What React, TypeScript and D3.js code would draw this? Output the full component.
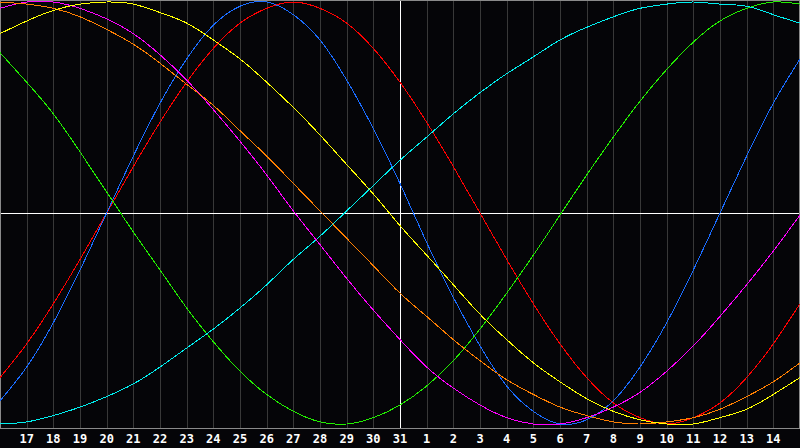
import React, { useEffect, useRef } from 'react';
import * as d3 from 'd3';

// days shown along the bottom, one column per day
const days = [16, 17, 18, 19, 20, 21, 22, 23, 24, 25, 26, 27, 28, 29, 30, 31,
  1, 2, 3, 4, 5, 6, 7, 8, 9, 10, 11, 12, 13, 14, 15];

// cycle values per day, -100..100
const physical = [-89, -73, -52, -27, 0, 27, 52, 73, 89, 98, 100, 94, 82, 63, 40, 14,
  -14, -40, -63, -82, -94, -100, -98, -89, -73, -52, -27, 0, 27, 52, 73];
const emotional = [-78, -62, -43, -22, 0, 22, 43, 62, 78, 90, 97, 100, 97, 90, 78, 62,
  43, 22, 0, -22, -43, -62, -78, -90, -97, -100, -97, -90, -78, -62, -43];
const intellectual = [76, 62, 47, 29, 10, -9, -27, -45, -61, -75, -86, -94, -99, -100, -97, -91,
  -82, -70, -55, -38, -20, -1, 18, 36, 53, 68, 81, 91, 97, 100, 99];
const spiritual = [-100, -99, -96, -92, -87, -81, -73, -64, -55, -45, -34, -22, -11, 1, 13, 25,
  36, 47, 57, 66, 74, 82, 88, 93, 97, 99, 100, 99, 98, 94, 90];
const intuitive = [97, 100, 100, 97, 92, 85, 75, 63, 49, 34, 18, 1, -15, -31, -46, -60,
  -73, -83, -91, -97, -100, -100, -97, -92, -85, -75, -63, -49, -34, -18, -1];
const awareness = [100, 99, 97, 93, 87, 80, 71, 61, 51, 39, 27, 14, 1, -12, -25, -38,
  -49, -60, -70, -79, -86, -92, -96, -99, -100, -99, -97, -93, -87, -80, -71];
const aesthetic = [85, 91, 96, 99, 100, 99, 95, 90, 82, 73, 62, 50, 37, 23, 9, -6,
  -20, -34, -48, -60, -71, -80, -88, -94, -98, -100, -100, -97, -93, -86, -78];

const series = [
  { name: 'emotional', values: emotional, color: '#ff0000' },
  { name: 'physical', values: physical, color: '#1a6cff' },
  { name: 'intellectual', values: intellectual, color: '#22ee00' },
  { name: 'spiritual', values: spiritual, color: '#00eeee' },
  { name: 'intuitive', values: intuitive, color: '#ff00ff' },
  { name: 'awareness', values: awareness, color: '#ff7f00' },
  { name: 'aesthetic', values: aesthetic, color: '#ffff00' },
];

const width = 800;
const height = 448;
const plotBottom = 428;
const todayIndex = 15; // the 31st

function Biorhythm() {
  const ref = useRef<SVGSVGElement>(null);

  useEffect(() => {
    const svg = d3.select(ref.current);
    svg.selectAll('*').remove();

    const x = d3.scaleLinear().domain([0, days.length - 1]).range([0, width]);
    const y = d3.scaleLinear().domain([-100, 100]).range([424, 2]);

    svg.append('rect')
      .attr('width', width)
      .attr('height', height)
      .attr('fill', '#050508');

    // day gridlines
    svg.append('g')
      .selectAll('line')
      .data(days.map((d, i) => i).filter(i => i > 0 && i < days.length - 1 && i !== todayIndex))
      .enter().append('line')
      .attr('x1', i => Math.round(x(i)) + 0.5)
      .attr('x2', i => Math.round(x(i)) + 0.5)
      .attr('y1', 0)
      .attr('y2', plotBottom)
      .attr('stroke', '#383838')
      .attr('shape-rendering', 'crispEdges');

    // border
    svg.append('path')
      .attr('d', `M0.5,${plotBottom + 0.5}V0.5H799.5V${plotBottom + 0.5}H0.5`)
      .attr('fill', 'none')
      .attr('stroke', '#8a8a8a')
      .attr('shape-rendering', 'crispEdges');

    // today + zero line
    svg.append('line')
      .attr('x1', Math.round(x(todayIndex)) + 0.5)
      .attr('x2', Math.round(x(todayIndex)) + 0.5)
      .attr('y1', 1)
      .attr('y2', plotBottom)
      .attr('stroke', '#ffffff')
      .attr('shape-rendering', 'crispEdges');
    svg.append('line')
      .attr('x1', 1)
      .attr('x2', width - 1)
      .attr('y1', Math.round(y(0)) + 0.5)
      .attr('y2', Math.round(y(0)) + 0.5)
      .attr('stroke', '#ffffff')
      .attr('shape-rendering', 'crispEdges');

    const line = d3.line<number>()
      .x((d, i) => x(i))
      .y(d => y(d))
      .curve(d3.curveNatural);

    svg.append('g')
      .selectAll('path')
      .data(series)
      .enter().append('path')
      .attr('d', s => line(s.values))
      .attr('fill', 'none')
      .attr('stroke', s => s.color)
      .attr('stroke-width', 1)
      .attr('shape-rendering', 'crispEdges');

    // day labels
    svg.append('g')
      .selectAll('text')
      .data(days.map((d, i) => ({ d, i })).filter(t => t.i > 0 && t.i < days.length - 1))
      .enter().append('text')
      .attr('x', t => x(t.i))
      .attr('y', 443)
      .attr('text-anchor', 'middle')
      .attr('fill', '#ffffff')
      .style('font-family', '"DejaVu Sans Mono", monospace')
      .style('font-weight', 'bold')
      .style('font-size', '12px')
      .text(t => t.d);
  }, []);

  return <svg ref={ref} width={width} height={height} style={{ position: 'absolute', left: 0, top: 0 }} />;
}

export default function App() {
  return <Biorhythm />;
}
